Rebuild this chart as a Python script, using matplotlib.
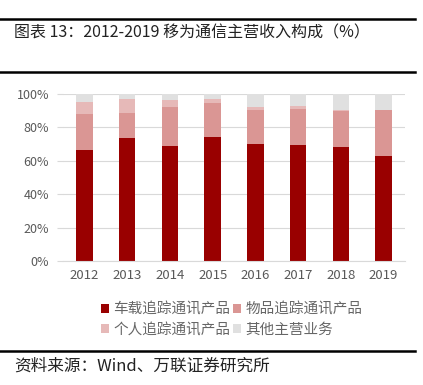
import matplotlib.pyplot as plt
import numpy as np

plt.rcParams['font.family'] = ['Noto Sans CJK SC', 'DejaVu Sans']

years = ['2012', '2013', '2014', '2015', '2016', '2017', '2018', '2019']
vehicle = [66.3, 73.7, 68.9, 74.1, 70.1, 69.5, 68.3, 62.5]
asset = [21.7, 14.9, 23.3, 20.1, 20.1, 21.3, 21.1, 27.5]
personal = [7.0, 8.2, 4.2, 2.4, 1.8, 1.8, 1.0, 0.4]
other = [5.0, 3.2, 3.6, 3.4, 8.0, 7.4, 9.6, 9.6]

labels = ['车载追踪通讯产品', '物品追踪通讯产品', '个人追踪通讯产品', '其他主营业务']
colors = ['#990000', '#DA9694', '#E6B9B8', '#E0E0E0']

fig = plt.figure(figsize=(4.23, 3.85), dpi=100)
W, H = 423, 385

# frame lines and title
for y in (19, 72, 351):
    fig.add_artist(plt.Line2D([0, 415 / W], [1 - y / H] * 2, color='black', lw=1.8))
fig.text(14 / W, 1 - 33 / H, '图表 13：2012-2019 移为通信主营收入构成（%）',
         fontsize=11.5, va='center', ha='left', color='#222222')
fig.text(14 / W, 1 - 366 / H, '资料来源：Wind、万联证券研究所',
         fontsize=12, va='center', ha='left', style='italic', color='#222222')

ax = fig.add_axes([63 / W, 1 - 261 / H, (405 - 63) / W, (261 - 93.7) / H])
x = np.arange(len(years))
series = [vehicle, asset, personal, other]
bottom = np.zeros(len(years))
handles = []
for vals, c, lab in zip(series, colors, labels):
    b = ax.bar(x, vals, 0.39, bottom=bottom, color=c, label=lab)
    handles.append(b)
    bottom += np.array(vals)

ax.set_xlim(-0.5, len(years) - 0.5)
ax.set_ylim(0, 100)
ax.set_yticks(np.arange(0, 101, 20))
ax.set_yticklabels([f'{v}%' for v in range(0, 101, 20)])
ax.set_xticks(x)
ax.set_xticklabels(years)
ax.yaxis.grid(True, color='#D9D9D9', lw=0.8)
ax.set_axisbelow(True)
for s in ('top', 'right', 'left'):
    ax.spines[s].set_visible(False)
ax.spines['bottom'].set_color('#D9D9D9')
ax.tick_params(axis='y', length=4, color='#D9D9D9', labelsize=9, labelcolor='#595959', pad=6)
ax.tick_params(axis='x', length=0, labelsize=9.5, labelcolor='#595959', pad=6)

# legend filled row by row: reorder for column-major layout
order = [0, 2, 1, 3]
fig.legend([handles[i] for i in order], [labels[i] for i in order],
           loc='upper left', bbox_to_anchor=(88 / W, 1 - 289 / H),
           ncol=2, frameon=False, fontsize=10.5, handlelength=0.55, handleheight=0.55,
           handletextpad=0.3, columnspacing=0.2, labelspacing=0.45, labelcolor='#666666')

fig.savefig('out.png', dpi=100)
